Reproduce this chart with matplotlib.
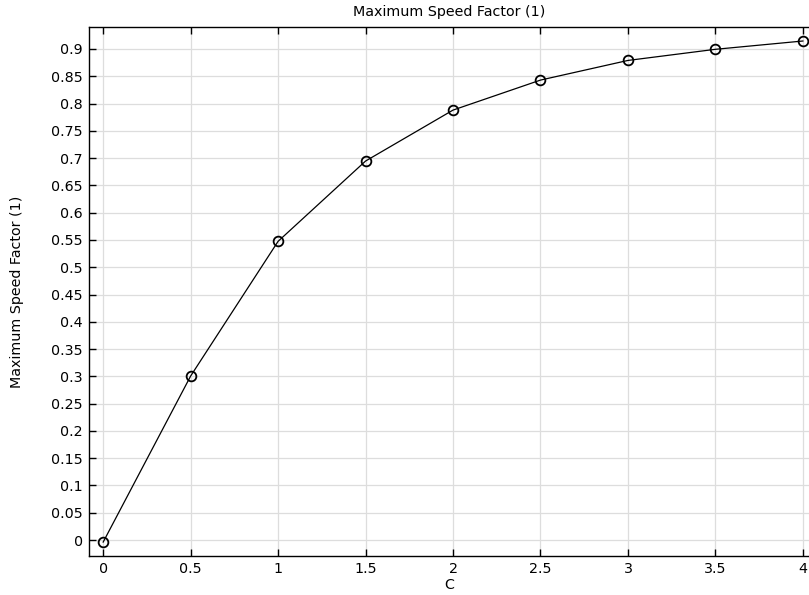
import matplotlib
matplotlib.use("Agg")
import matplotlib.pyplot as plt
import numpy as np

# values
c_values = [0, 0.5, 1, 1.5, 2, 2.5, 3, 3.5, 4]
speed_factor = [-0.0037, 0.3006, 0.5475, 0.6946, 0.788, 0.843, 0.879, 0.8994, 0.9146]
x_ticks = [0, 0.5, 1, 1.5, 2, 2.5, 3, 3.5, 4]
y_ticks = [0, 0.05, 0.1, 0.15, 0.2, 0.25, 0.3, 0.35, 0.4, 0.45, 0.5,
           0.55, 0.6, 0.65, 0.7, 0.75, 0.8, 0.85, 0.9]

fs = 10.3
plt.rcParams['font.family'] = ['DejaVu Sans']
plt.rcParams['font.size'] = fs

fig = plt.figure(figsize=(8.09, 5.95), dpi=100)
ax = fig.add_axes([0.1096, 0.0655, 0.8904, 0.8896])

ax.plot(c_values, speed_factor, color='black', linewidth=0.9,
        marker='o', markersize=7, markerfacecolor='none',
        markeredgecolor='black', markeredgewidth=1.3, zorder=3)

ax.set_xlim(-0.083, 4.035)
ax.set_ylim(-0.0293, 0.9408)
ax.set_xticks(x_ticks)
ax.set_xticklabels([f"{t:g}" for t in x_ticks])
ax.set_yticks(y_ticks)
ax.set_yticklabels([f"{t:g}" for t in y_ticks])

ax.grid(True, color='#dddddd', linewidth=0.9)
ax.set_axisbelow(True)
# right edge of the plot box lies off the picture
ax.spines['right'].set_visible(False)
ax.tick_params(direction='in', length=5, width=1, top=True, right=False,
               labelsize=fs, pad=4)
for side in ['left', 'bottom', 'top']:
    ax.spines[side].set_linewidth(1.0)

ax.set_title('Maximum Speed Factor (1)', fontsize=fs, pad=8)
ax.set_xlabel('C', fontsize=fs, labelpad=2)
ax.set_ylabel('Maximum Speed Factor (1)', fontsize=fs, labelpad=20)

fig.savefig('out.png', dpi=100)
